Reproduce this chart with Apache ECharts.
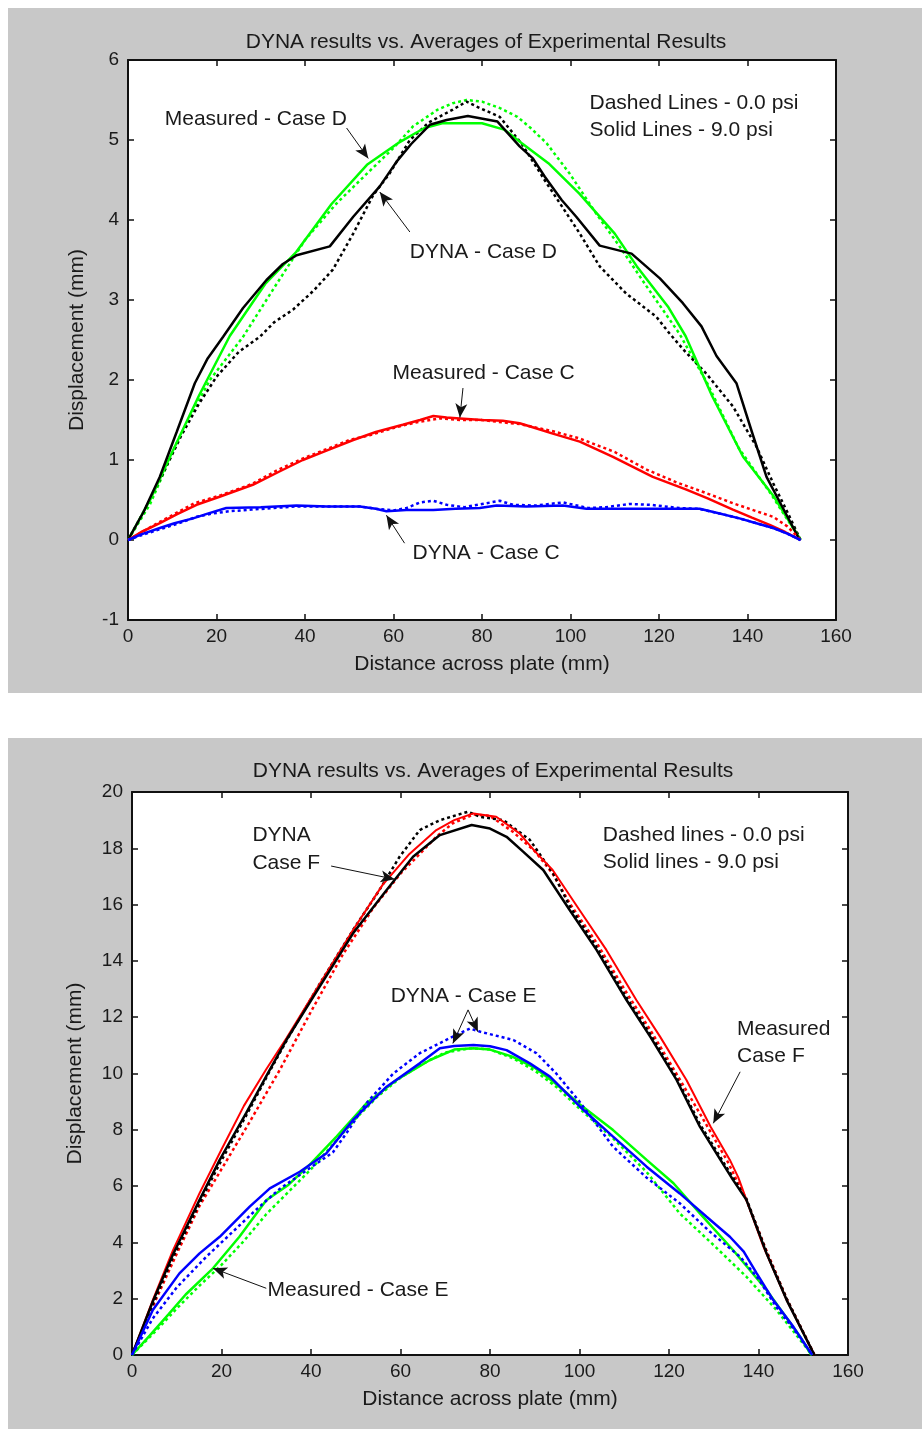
<!DOCTYPE html>
<html>
<head>
<meta charset="utf-8">
<script src="https://cdn.jsdelivr.net/npm/echarts@6/dist/echarts.min.js"></script>
<style>
  html, body { margin: 0; padding: 0; background: #fff; }
  #wrap { position: relative; width: 924px; height: 1429px; }
  .panel { position: absolute; background: #c8c8c8; }
  #chart { position: absolute; left: 0; top: 0; width: 924px; height: 1429px; }
</style>
</head>
<body>
<div id="wrap">
  <div class="panel" style="left:8px;top:8px;width:914px;height:685px"></div>
  <div class="panel" style="left:8px;top:738px;width:914px;height:691px"></div>
  <div id="chart"></div>
</div>
<script>
// top plot - case D / case C  (solid = 9.0 psi, dashed = 0.0 psi)
var measDSolid = [[0,0],[5,0.5],[10,1.1],[16,1.8],[23,2.55],[31,3.2],[38,3.6],[46,4.2],[54,4.69],[61,4.96],[67,5.15],[71,5.21],[80,5.21],[85,5.13],[89,4.96],[95,4.71],[102,4.33],[110,3.83],[115,3.42],[122,2.92],[126,2.55],[132,1.8],[139,1.04],[146,0.54],[152,0]];
var measDDash = [[0,0],[5,0.45],[11.3,1.25],[18.5,2.0],[26,2.54],[33,3.15],[40,3.75],[47,4.2],[54,4.58],[60,4.9],[64.4,5.17],[70,5.38],[73.4,5.46],[76.5,5.5],[80,5.48],[84,5.4],[88,5.29],[91,5.15],[94.6,4.96],[99.8,4.58],[105.8,4.08],[111.1,3.67],[117.2,3.17],[124.6,2.58],[131,1.95],[138,1.15],[145,0.6],[152,0]];
var dynaDSolid = [[0,0],[3.5,0.35],[7.2,0.79],[11,1.35],[15.1,1.96],[18,2.27],[21.5,2.54],[26,2.9],[31.3,3.25],[35,3.45],[38.1,3.56],[45.6,3.67],[50.9,4.04],[56.9,4.42],[60.7,4.73],[64,4.95],[68.2,5.19],[72,5.25],[76.8,5.3],[83.5,5.23],[88.5,4.92],[91.5,4.77],[94.2,4.54],[98,4.25],[101.3,4.04],[106.6,3.68],[113.8,3.58],[120.2,3.27],[125.4,2.96],[129.6,2.67],[133,2.3],[137.5,1.96],[141,1.35],[144.3,0.79],[148,0.4],[151.8,0]];
var dynaDDash = [[0,0],[4,0.4],[7.9,0.83],[12,1.3],[16,1.7],[20,2.04],[25,2.35],[29.8,2.54],[33,2.72],[37.3,2.88],[42,3.12],[46.3,3.38],[50.9,3.83],[55.4,4.31],[59.1,4.58],[63.7,5.0],[68,5.22],[73.4,5.38],[76.5,5.48],[79.5,5.4],[84,5.29],[89,4.95],[94.6,4.46],[97.6,4.21],[102.1,3.83],[106.6,3.42],[112.6,3.08],[119.4,2.79],[122.4,2.58],[126,2.35],[130.7,2.08],[136.7,1.67],[142,1.17],[145.8,0.71],[149,0.35],[152,0]];
var measCSolid = [[0,0],[3,0.1],[7.2,0.21],[11,0.32],[15.5,0.44],[20.7,0.54],[28.2,0.69],[34,0.85],[39.5,1.0],[45,1.12],[50.9,1.25],[56,1.35],[62.1,1.44],[66,1.5],[69,1.55],[72,1.53],[75,1.52],[80,1.5],[84.7,1.49],[88.5,1.46],[92,1.4],[96,1.33],[102.1,1.23],[109.6,1.04],[118.6,0.79],[126.2,0.63],[131,0.52],[136.7,0.38],[141,0.28],[145,0.19],[148.5,0.1],[152,0]];
var measCDash = [[0,0],[7,0.22],[15,0.46],[21,0.56],[28,0.7],[34,0.88],[40,1.03],[46,1.16],[50,1.25],[54.6,1.31],[60,1.4],[65,1.47],[70.4,1.52],[75,1.5],[80,1.5],[84.7,1.47],[88.5,1.45],[96,1.36],[102,1.27],[110,1.1],[117.2,0.88],[124,0.72],[130,0.6],[136.7,0.46],[142,0.36],[145.8,0.29],[149,0.17],[152,0]];
var dynaCSolid = [[0,0],[3,0.07],[7.2,0.15],[10.5,0.21],[14.7,0.27],[18,0.33],[22.2,0.4],[30,0.41],[38.1,0.43],[45,0.42],[52.4,0.42],[56,0.39],[58.4,0.36],[62.9,0.375],[69,0.375],[74,0.39],[79.5,0.4],[83.3,0.43],[90,0.42],[98.3,0.43],[103.6,0.39],[110,0.39],[120,0.39],[129.2,0.39],[133,0.34],[138.2,0.27],[142,0.21],[145.8,0.15],[149,0.08],[152,0]];
var dynaCDash = [[0,0],[3,0.06],[7,0.13],[11,0.2],[15.5,0.29],[19,0.33],[23,0.36],[28,0.38],[33,0.4],[38,0.42],[45,0.42],[52.4,0.42],[56,0.39],[60,0.37],[63,0.4],[66,0.47],[69,0.49],[72,0.44],[76,0.41],[80,0.45],[84,0.49],[87,0.44],[92,0.43],[98.3,0.47],[104,0.4],[108,0.41],[113.3,0.45],[118,0.44],[124.6,0.4],[129,0.39],[133,0.34],[138.2,0.27],[142,0.21],[145.8,0.15],[149,0.08],[152,0]];

// bottom plot - case F / case E
var dynaFSolid = [[0,0],[4.65,1.9],[9.1,3.55],[15.1,5.51],[19.6,6.93],[25.5,8.59],[30.5,10.05],[34.5,11.19],[41.9,13.08],[49.4,14.98],[56.9,16.52],[62.8,17.7],[68.8,18.47],[75.9,18.83],[80,18.7],[83.7,18.41],[87.4,17.88],[91.9,17.23],[97.8,15.81],[103.8,14.39],[110.5,12.61],[115.8,11.31],[121.7,9.77],[126.9,8.11],[131.5,6.93],[134.3,6.22],[137.3,5.51],[141.8,3.61],[146.3,1.95],[152.5,0]];
var dynaFDash = [[0,0],[4.65,1.8],[9.1,3.45],[15.1,5.4],[19.6,6.8],[25.5,8.5],[30.5,10.0],[35,11.3],[42,13.2],[49.4,15.1],[55.3,16.52],[59.8,17.7],[64.3,18.65],[68.8,19.0],[75.1,19.3],[77.7,19.12],[83,19.0],[88.9,18.3],[94.1,17.11],[97.8,15.95],[103.8,14.5],[110.5,12.7],[115.8,11.4],[121.7,9.85],[126.9,8.2],[134.3,6.3],[137.3,5.55],[141.8,3.65],[146.3,2.0],[152.5,0]];
var measFSolid = [[0,0],[4.65,1.95],[9.1,3.7],[15.1,5.75],[20,7.3],[25,8.85],[30,10.15],[34.5,11.25],[42,13.2],[49.4,15.1],[56,16.7],[62,17.8],[68,18.65],[72,19.0],[76.3,19.24],[81.4,19.12],[86.6,18.53],[90,17.9],[94,17.23],[100,15.81],[106,14.39],[112.7,12.61],[118,11.31],[123.9,9.77],[129.3,8.11],[133.6,6.93],[135.5,6.3],[137.3,5.51],[141.1,3.85],[146.3,1.95],[152.5,0]];
var measFDash = [[0,0],[5,1.85],[10,3.6],[15.1,5.3],[20,6.6],[26,8.2],[33,10.12],[40,12.2],[47,14.2],[54,15.9],[60,17.1],[64.3,17.8],[68,18.41],[71.7,18.89],[76.3,19.2],[80,19.15],[85,18.6],[90,17.9],[94,17.1],[98,16.0],[104,14.6],[110,13.0],[116,11.5],[122,9.9],[127,8.55],[133,6.9],[137.3,5.51],[141.8,3.7],[146.3,2.0],[152.5,0]];
var dynaESolid = [[0,0],[4.65,1.6],[10.6,2.9],[15.1,3.61],[19.6,4.2],[26.3,5.27],[30.8,5.92],[37.5,6.51],[43.4,7.16],[49.4,8.35],[56.9,9.53],[64.3,10.36],[68.8,10.9],[72,10.98],[76.3,11.01],[80,10.97],[83.7,10.83],[88.9,10.36],[93.4,9.89],[100.1,8.82],[107.5,7.76],[115,6.69],[122.4,5.74],[128.4,4.91],[133.6,4.2],[136.7,3.67],[139.6,2.9],[143.3,1.95],[147.8,1.0],[152,0]];
var dynaEDash = [[0,0],[4.65,1.3],[10,2.4],[16.6,3.49],[22,4.3],[28,5.2],[33,5.9],[38,6.45],[44.9,7.2],[48,7.9],[52.4,8.95],[58.4,10.0],[64.3,10.72],[71.7,11.31],[75.5,11.6],[77.7,11.49],[85.2,11.19],[90.4,10.72],[94.8,10.0],[100,9.0],[107.5,7.4],[115,6.3],[122.4,5.39],[129,4.4],[135.9,3.49],[140,2.7],[144,1.7],[148,0.9],[152,0]];
var measESolid = [[0,0],[4,0.7],[8.2,1.45],[12,2.15],[18.1,3.08],[24,4.2],[30,5.5],[35,6.05],[40,6.81],[45.7,7.76],[52.4,8.94],[59.1,9.77],[66.6,10.48],[72,10.85],[76.3,10.9],[80,10.85],[85,10.6],[90,10.2],[95,9.6],[100.1,8.9],[107.5,7.99],[115,6.93],[121,6.1],[126.9,5.03],[134.3,3.73],[141.8,2.31],[149.3,0.65],[151.8,0]];
var measEDash = [[0,0],[5,0.8],[10,1.65],[15,2.45],[20,3.2],[25,4.05],[30,5.0],[35,5.8],[40,6.6],[45,7.5],[50,8.4],[55,9.2],[60,9.85],[65,10.35],[70,10.75],[76,10.9],[80,10.85],[85,10.55],[90,10.1],[95,9.5],[100,8.75],[107.5,7.7],[115,6.5],[122.4,5.03],[130,3.9],[137.3,2.78],[144,1.6],[152,0]];

// annotation text and arrows, in data units
var topNotes = [
  ['Measured - Case D', 8.3, 5.26],
  ['DYNA - Case D', 63.7, 3.6],
  ['Dashed Lines - 0.0 psi', 104.3, 5.46],
  ['Solid Lines - 9.0 psi', 104.3, 5.125],
  ['Measured - Case C', 59.8, 2.09],
  ['DYNA - Case C', 64.3, -0.16]
];
var topArrows = [
  [[49.4, 5.15], [54.3, 4.77]],
  [[63.7, 3.85], [56.9, 4.35]],
  [[75.7, 1.9], [75.0, 1.53]],
  [[62.5, -0.04], [58.4, 0.31]]
];
var botNotes = [
  ['DYNA', 26.9, 18.47],
  ['Case F', 26.9, 17.48],
  ['Dashed lines - 0.0 psi', 105.2, 18.47],
  ['Solid lines - 9.0 psi', 105.2, 17.51],
  ['Measured', 135.2, 11.58],
  ['Case F', 135.2, 10.62],
  ['DYNA - Case E', 57.8, 12.75],
  ['Measured - Case E', 30.3, 2.31]
];
var botArrows = [
  [[44.5, 17.37], [58.7, 16.9]],
  [[135.9, 10.06], [129.9, 8.23]],
  [[75.1, 12.26], [71.7, 11.07]],
  [[75.1, 12.26], [77.3, 11.48]],
  [[30.0, 2.37], [18.1, 3.08]]
];

var FONT = 'Liberation Sans, Arial, sans-serif';
var TXT = '#1a1a1a';

var myChart = echarts.init(document.getElementById('chart'));

function xAx(grid, pos, show) {
  return {
    type: 'value', gridIndex: grid, position: pos, min: 0, max: 160, interval: 20,
    axisLine: { show: true, onZero: false, lineStyle: { color: '#111', width: 2 } },
    axisTick: { show: true, inside: true, length: 6, lineStyle: { color: '#111', width: 1.5 } },
    axisLabel: { show: show, color: TXT, fontFamily: FONT, fontSize: 19, margin: 7 },
    splitLine: { show: false },
    name: show ? 'Distance across plate (mm)' : '',
    nameLocation: 'middle', nameGap: 34,
    nameTextStyle: { color: TXT, fontFamily: FONT, fontSize: 21 }
  };
}
function yAx(grid, pos, show, mn, mx, step, gap) {
  return {
    type: 'value', gridIndex: grid, position: pos, min: mn, max: mx, interval: step,
    axisLine: { show: true, onZero: false, lineStyle: { color: '#111', width: 2 } },
    axisTick: { show: true, inside: true, length: 6, lineStyle: { color: '#111', width: 1.5 } },
    axisLabel: { show: show, color: TXT, fontFamily: FONT, fontSize: 19, margin: 9 },
    splitLine: { show: false },
    name: show ? 'Displacement (mm)' : '',
    nameLocation: 'middle', nameGap: gap,
    nameTextStyle: { color: TXT, fontFamily: FONT, fontSize: 21 }
  };
}
function line(name, data, color, dashed, grid, w) {
  return {
    name: name, type: 'line', data: data, xAxisIndex: grid * 2, yAxisIndex: grid * 2,
    showSymbol: false, symbol: 'none', silent: true, animation: false,
    lineStyle: { color: color, width: w || 2.5, type: dashed ? [3, 3] : 'solid' }
  };
}
function notes(grid, texts, arrows) {
  return {
    type: 'line', data: [], xAxisIndex: grid * 2, yAxisIndex: grid * 2, silent: true, animation: false,
    markPoint: {
      symbol: 'circle', symbolSize: 1, itemStyle: { color: 'transparent' },
      data: texts.map(function (t) {
        return { name: t[0], coord: [t[1], t[2]],
          label: { show: true, position: 'inside', formatter: t[0], align: 'left', verticalAlign: 'middle',
                   color: TXT, fontFamily: FONT, fontSize: 21 } };
      })
    },
    markLine: {
      symbol: ['none', 'arrow'], symbolSize: [9, 14], precision: 4,
      label: { show: false },
      itemStyle: { color: '#111' },
      lineStyle: { color: '#111', width: 1, type: 'solid' },
      data: arrows.map(function (a) { return [{ coord: a[0] }, { coord: a[1] }]; })
    }
  };
}

var option = {
  animation: false,
  title: [
    { text: 'DYNA results vs. Averages of Experimental Results', left: 481, top: 27, textAlign: 'center',
      textStyle: { color: TXT, fontFamily: FONT, fontSize: 21, fontWeight: 'normal' } },
    { text: 'DYNA results vs. Averages of Experimental Results', left: 488, top: 756, textAlign: 'center',
      textStyle: { color: TXT, fontFamily: FONT, fontSize: 21, fontWeight: 'normal' } }
  ],
  grid: [
    { left: 128, top: 60, width: 708, height: 560, show: true, backgroundColor: '#fff', borderWidth: 0 },
    { left: 132, top: 792, width: 716, height: 563, show: true, backgroundColor: '#fff', borderWidth: 0 }
  ],
  xAxis: [xAx(0, 'bottom', true), xAx(0, 'top', false), xAx(1, 'bottom', true), xAx(1, 'top', false)],
  yAxis: [
    yAx(0, 'left', true, -1, 6, 1, 40), yAx(0, 'right', false, -1, 6, 1, 0),
    yAx(1, 'left', true, 0, 20, 2, 46), yAx(1, 'right', false, 0, 20, 2, 0)
  ],
  series: [
    line('Measured D 0', measDDash, '#00ff00', true, 0),
    line('DYNA D 0', dynaDDash, '#000000', true, 0),
    line('Measured D 9', measDSolid, '#00ff00', false, 0),
    line('DYNA D 9', dynaDSolid, '#000000', false, 0),
    line('Measured C 0', measCDash, '#ff0000', true, 0),
    line('Measured C 9', measCSolid, '#ff0000', false, 0),
    line('DYNA C 0', dynaCDash, '#0000ff', true, 0),
    line('DYNA C 9', dynaCSolid, '#0000ff', false, 0),
    notes(0, topNotes, topArrows),

    line('Measured F 0', measFDash, '#ff0000', true, 1),
    line('DYNA F 0', dynaFDash, '#000000', true, 1),
    line('Measured F 9', measFSolid, '#ff0000', false, 1, 2),
    line('DYNA F 9', dynaFSolid, '#000000', false, 1),
    line('Measured E 0', measEDash, '#00ff00', true, 1),
    line('Measured E 9', measESolid, '#00ff00', false, 1),
    line('DYNA E 0', dynaEDash, '#0000ff', true, 1),
    line('DYNA E 9', dynaESolid, '#0000ff', false, 1),
    notes(1, botNotes, botArrows)
  ]
};
myChart.setOption(option);
</script>
</body>
</html>
